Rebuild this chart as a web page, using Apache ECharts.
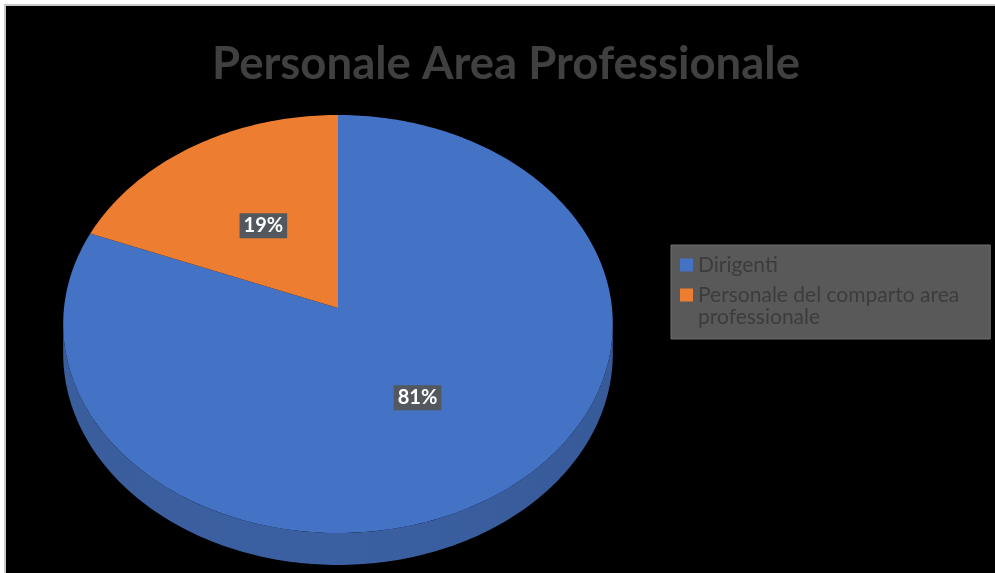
<!DOCTYPE html>
<html>
<head>
<meta charset="utf-8">
<script src="https://cdn.jsdelivr.net/npm/echarts@6/dist/echarts.min.js"></script>
<style>
  html, body { margin: 0; padding: 0; background: #ffffff; }
  #chart { width: 995px; height: 573px; }
</style>
</head>
<body>
<div id="chart"></div>
<script>
// Categories, values and colours of the pie
const categories = ['Dirigenti', 'Personale del comparto area professionale'];
const values = [81, 19];
const colors = ['#4472c4', '#ed7d31'];
const sideColor = '#3b60a2';
const titleText = 'Personale Area Professionale';

const total = values.reduce((a, b) => a + b, 0);

// Tilted 3D pie layout: projected centre, radii, perspective factor and thickness
const PIE = { cx: 338, cy: 308, rx: 274, ry: 207.8, persp: 0.0765, depth: 29.5 };

// Project a point of the pie disc (radius fraction r, angle phi clockwise from 12 o'clock)
function project(r, phi, lower) {
  const u = r * Math.sin(phi);
  const v = r * Math.cos(phi);
  const w = 1 + PIE.persp * v;
  return [PIE.cx + PIE.rx * u / w, PIE.cy - PIE.ry * v / w + (lower ? PIE.depth / w : 0)];
}

function arc(a, b, lower) {
  const pts = [];
  const n = Math.max(2, Math.ceil(Math.abs(b - a) / (Math.PI / 180)));
  for (let i = 0; i <= n; i++) pts.push(project(1, a + (b - a) * i / n, lower));
  return pts;
}

function sliceAngles(idx) {
  let before = 0;
  for (let i = 0; i < idx; i++) before += values[i];
  const start = before / total * Math.PI * 2;
  return [start, start + values[idx] / total * Math.PI * 2];
}

function renderSlice(params, api) {
  const idx = params.seriesIndex;
  const [start, end] = sliceAngles(idx);
  const children = [];

  // visible front wall of the disc
  const frontA = Math.acos(-PIE.persp);
  const frontB = Math.PI * 2 - frontA;
  const a = Math.max(start, frontA), b = Math.min(end, frontB);
  if (a < b) {
    const top = arc(a, b, false);
    const bottom = arc(a, b, true).reverse();
    children.push({
      type: 'polygon',
      shape: { points: top.concat(bottom) },
      style: {
        fill: new echarts.graphic.LinearGradient(0, 0, 1, 0, [
          { offset: 0, color: '#3a5d9c' },
          { offset: 0.5, color: sideColor },
          { offset: 1, color: '#375a99' }
        ])
      }
    });
  }

  // top face of the slice
  const face = [project(0, 0, false)].concat(arc(start, end, false));
  children.push({
    type: 'polygon',
    shape: { points: face },
    style: { fill: api.visual('color') }
  });

  // percentage label
  const mid = (start + end) / 2;
  const pos = project(0.5, mid, false);
  const pct = Math.round(api.value(0) / total * 100) + '%';
  children.push({
    type: 'text',
    x: pos[0],
    y: pos[1] + 1,
    z2: 10,
    style: {
      text: pct,
      fill: '#ffffff',
      font: 'bold 20px Lato',
      align: 'center',
      verticalAlign: 'middle',
      backgroundColor: '#53585f',
      padding: [3, 4, 2, 4]
    }
  });

  return { type: 'group', children: children };
}

// Legend markers: a square placed beside the first text line, inside a taller icon box
const markerSingleLine = 'path://M0,0L0.01,0M0,11.5H13V24.5H0ZM0,36L0.01,36';
const markerFirstLine = 'path://M0,0L0.01,0M0,0.5H13V13.5H0ZM0,36L0.01,36';

const chart = echarts.init(document.getElementById('chart'), null, { renderer: 'canvas' });

chart.setOption({
  backgroundColor: '#ffffff',
  animation: false,
  graphic: [{
    type: 'rect',
    z: -10,
    silent: true,
    shape: { x: 5, y: 5, width: 1200, height: 800 },
    style: { fill: '#000000', stroke: '#c8c8c8', lineWidth: 2 }
  }],
  title: {
    text: titleText,
    left: 501,
    top: 36,
    textAlign: 'center',
    textStyle: {
      fontFamily: 'Lato',
      fontWeight: 'bold',
      fontSize: 45.5,
      color: '#404040'
    }
  },
  legend: {
    data: [
      { name: categories[0], icon: markerSingleLine },
      { name: categories[1], icon: markerFirstLine }
    ],
    orient: 'vertical',
    left: 671,
    top: 245,
    backgroundColor: '#595959',
    borderColor: '#6e6e6e',
    borderWidth: 1,
    padding: [2, 31, 11, 9],
    itemWidth: 13,
    itemHeight: 36,
    itemGap: 1,
    formatter: name => name.replace(' area ', ' area\n'),
    textStyle: {
      fontFamily: 'Lato',
      fontSize: 21,
      lineHeight: 22,
      color: '#3c3c3c'
    }
  },
  series: categories.map((name, i) => ({
    type: 'custom',
    name: name,
    coordinateSystem: 'none',
    itemStyle: { color: colors[i] },
    renderItem: renderSlice,
    data: [{ name: name, value: values[i] }]
  }))
});
</script>
</body>
</html>
